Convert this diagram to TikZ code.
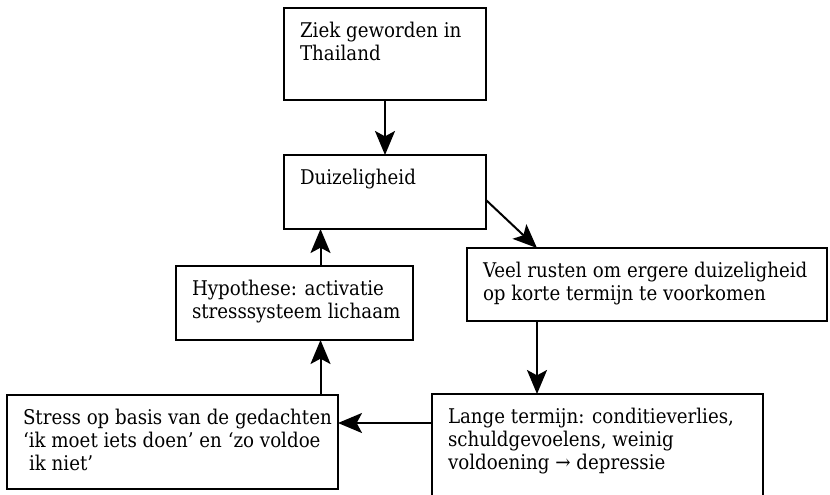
\documentclass[tikz,border=0pt]{standalone}
\usepackage{fontspec}
\setmainfont{DejaVu Serif Condensed}
\usetikzlibrary{arrows.meta}
\def\lw{2.2pt}
\tikzstyle{box}=[draw,line width=\lw,anchor=north west,inner xsep=12pt,inner ysep=0pt,
  outer sep=0pt,font=\fontsize{15.2pt}{17.5pt}\selectfont]
\newcommand{\newBox}[5]{\node[box](#1) at #3 {\parbox[t][#5][t]{#4}{\rule{0pt}{21.75pt}%
  \begin{tabular}[t]{@{}l@{}}#2\end{tabular}}};}
\newcommand{\newArrow}[2]{\draw[->] #1 -- #2;}

\begin{document}
\begin{tikzpicture}[x=0.75pt,y=-0.75pt,
        >={Stealth[length=18pt,width=15pt,inset=4pt]},
        line width=1.5pt
        ]
        \useasboundingbox (0,0) rectangle (830,494);
        \newBox{ziek}{Ziek geworden in\\Thailand}{(284,8)}{127.5pt}{69pt}
        \newBox{duiz}{Duizeligheid}{(284,155)}{127.5pt}{55.5pt}
        \newBox{veel}{Veel rusten om ergere duizeligheid\\op korte termijn te voorkomen}{(467,248)}{246pt}{54.75pt}
        \newBox{hyp}{Hypothese: activatie\\stresssysteem lichaam}{(176,266)}{153.75pt}{55.5pt}
        \newBox{stress}{Stress op basis van de gedachten\\‘ik moet iets doen’ en ‘zo voldoe\\\hspace*{0.3em}ik niet’}{(7,395)}{224.25pt}{70.5pt}
        \newBox{lange}{Lange termijn: conditieverlies,\\schuldgevoelens, weinig\\voldoening → depressie}{(432,394)}{224.25pt}{90pt}
        % x and y of the straight connectors
        \coordinate (ax) at (320.5,0);
        \coordinate (bx) at (537,0);
        \coordinate (cy) at (0,423);
        \newArrow{(ziek)}{(duiz)}
        \newArrow{([yshift=-6pt]duiz.east)}{(veel.north -| bx)}
        \newArrow{(veel.south -| bx)}{(lange.north -| bx)}
        \newArrow{(lange.west |- cy)}{(stress.east |- cy)}
        \newArrow{(stress.north -| ax)}{(hyp.south -| ax)}
        \newArrow{(hyp.north -| ax)}{(duiz.south -| ax)}
\end{tikzpicture}
\end{document}
